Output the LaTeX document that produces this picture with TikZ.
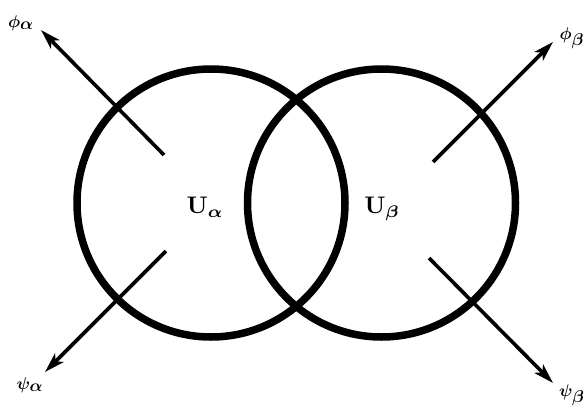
\documentclass[tikz,border=0pt]{standalone}
\usepackage{amsmath,bm,graphicx}
\usetikzlibrary{arrows.meta}
\tikzset{
  ring/.style={circle, draw=black, line width=7.5pt, minimum size=268pt, inner sep=0pt},
  mapline/.style={line width=3.6pt, -{Stealth[length=20pt,width=12pt,inset=5pt]}},
  greeklabel/.style={inner sep=0pt},
  setlabel/.style={inner sep=0pt}
}
\newcommand{\glab}[1]{\scalebox{1.7}{#1}}
\newcommand{\slab}[1]{\scalebox{2.4}{#1}}
\begin{document}
\begin{tikzpicture}[x=1pt,y=-1pt]
\useasboundingbox (0,0) rectangle (584,410);
\node[ring] (ca) at (211,203) {};
\node[ring] (cb) at (381.5,203) {};
\node[setlabel] (ua) at (205,207) {\slab{$\mathbf{U}_{\bm{\alpha}}$}};
\node[setlabel] (ub) at (382,209) {\slab{$\mathbf{U}_{\bm{\beta}}$}};
% arrow starts and tips
\coordinate (sa1) at (164,155);
\coordinate (ta1) at (41,30);
\coordinate (sb1) at (433,162);
\coordinate (tb1) at (553,42);
\coordinate (sa2) at (166,251);
\coordinate (ta2) at (45,372);
\coordinate (sb2) at (429,258);
\coordinate (tb2) at (553,383);
\draw[mapline] (sa1) -- (ta1);
\draw[mapline] (sb1) -- (tb1);
\draw[mapline] (sa2) -- (ta2);
\draw[mapline] (sb2) -- (tb2);
\node[greeklabel] (pa) at (21,23) {\glab{$\bm{\phi_{\textstyle\alpha}}$}};
\node[greeklabel] (pb) at (572,38) {\glab{$\bm{\phi_{\textstyle\beta}}$}};
\node[greeklabel] (qa) at (30,385) {\glab{$\bm{\psi_{\textstyle\alpha}}$}};
\node[greeklabel] (qb) at (572,395) {\glab{$\bm{\psi_{\textstyle\beta}}$}};
\end{tikzpicture}
\end{document}
